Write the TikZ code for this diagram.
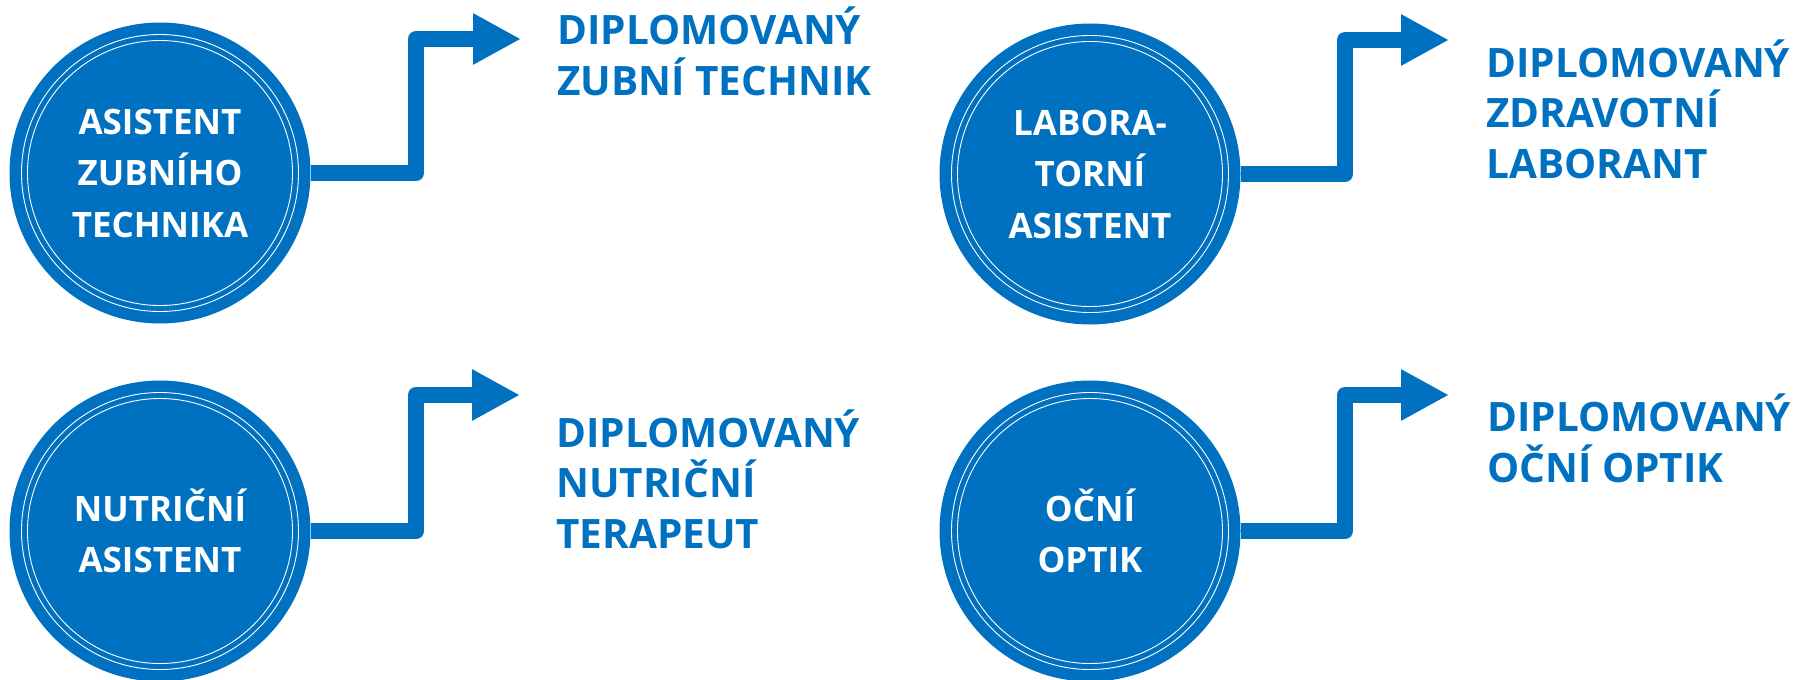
\documentclass[tikz,border=0pt]{standalone}
\usepackage{fontspec}
\setmainfont{Open Sans}
\usetikzlibrary{arrows.meta}
\definecolor{blu}{HTML}{0070C0}
\begin{document}
\begin{tikzpicture}[x=1pt,y=-1pt,
  disc/.style={circle, fill=blu, draw=none, minimum size=301pt, inner sep=0pt},
  ring/.style={draw=white, line width=0.9pt},
  intext/.style={text=white, font=\fontsize{35}{51.5}\selectfont\bfseries, align=center, inner sep=0pt},
  outtext/.style={text=blu, font=\fontsize{40.5}{50.5}\selectfont\bfseries, align=left, inner sep=0pt, anchor=base west},
  conn/.style={draw=blu, line width=16pt, line join=round, -{Triangle[length=48pt,width=48pt]}}]
\useasboundingbox (0,0) rectangle (1802,680);

% circles
\node[disc] (c1) at (160,173) {};
\node[disc] (c2) at (1090,174) {};
\node[disc] (c3) at (160,531) {};
\node[disc] (c4) at (1090,531) {};
\foreach \c in {c1,c2,c3,c4}{
  \draw[ring] (\c.center) circle[radius=138.5];
  \draw[ring] (\c.center) circle[radius=132.5];
}

% circle labels
\node[intext] (l1) at (c1.center) {ASISTENT\\ZUBNÍHO\\TECHNIKA};
\node[intext] (l2) at (c2.center) {LABORA-\\TORNÍ\\ASISTENT};
\node[intext] (l3) at (c3.center) {NUTRIČNÍ\\ASISTENT};
\node[intext] (l4) at (c4.center) {OČNÍ\\OPTIK};

% connector bends and ends
\coordinate (k1) at (416,39);   \coordinate (e1) at (521,39);
\coordinate (k2) at (1345,40);  \coordinate (e2) at (1449,40);
\coordinate (k3) at (416,395);  \coordinate (e3) at (520,395);
\coordinate (k4) at (1345,395); \coordinate (e4) at (1449,395);

\draw[conn] (c1.east) -| (k1) -- (e1);
\draw[conn] (c2.east) -| (k2) -- (e2);
\draw[conn] (c3.east) -| (k3) -- (e3);
\draw[conn] (c4.east) -| (k4) -- (e4);

% target texts (anchored at the baseline of their last line)
\node[outtext] (t1) at (557,95) {DIPLOMOVANÝ\\ZUBNÍ TECHNIK};
\node[outtext] (t2) at (1486,178) {DIPLOMOVANÝ\\ZDRAVOTNÍ\\LABORANT};
\node[outtext] (t3) at (556,548) {DIPLOMOVANÝ\\NUTRIČNÍ\\TERAPEUT};
\node[outtext] (t4) at (1487,482) {DIPLOMOVANÝ\\OČNÍ OPTIK};
\end{tikzpicture}
\end{document}
